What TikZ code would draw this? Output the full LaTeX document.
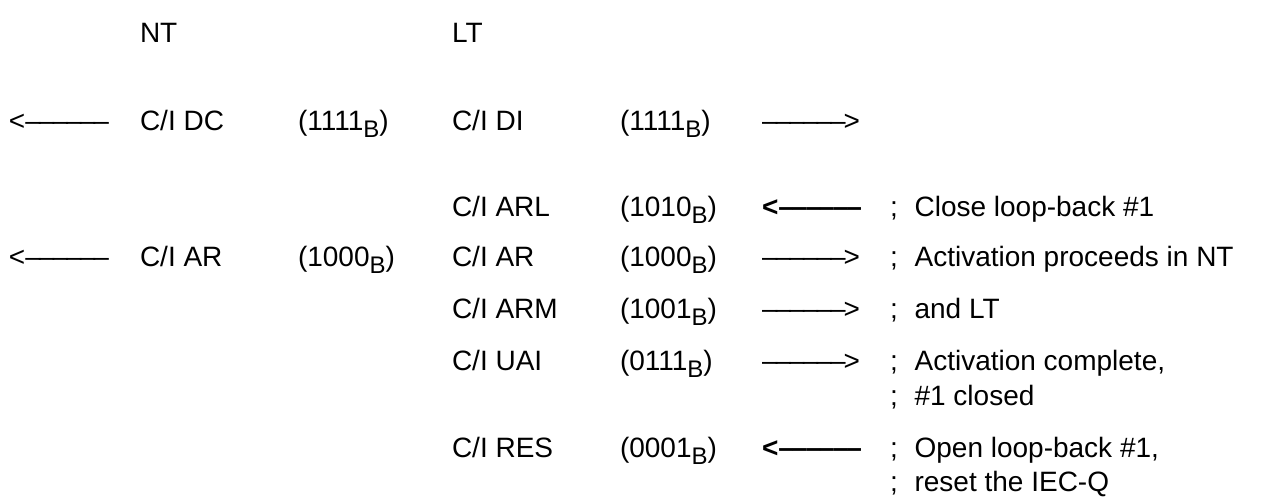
\documentclass[tikz,border=0pt]{standalone}
\usepackage{fontspec}
\setmainfont{Liberation Sans}
\usepackage{tikz}

\tikzset{
  txt/.style={anchor=base west, inner sep=0pt, outer sep=0pt, font=\fontsize{14}{16}\selectfont},
  boldtxt/.style={txt, font=\fontsize{14}{16}\selectfont\bfseries}
}
\newcommand{\cib}[1]{(#1\raisebox{-0.28em}{\fontsize{12}{12}\selectfont B})}
\newcommand{\dsh}{\textendash\kern-0.07em}
\newcommand{\lar}{<\dsh\dsh\dsh\dsh\dsh\textendash}
\newcommand{\rar}{\dsh\dsh\dsh\dsh\dsh\dsh>}
\newcommand{\cmt}{;\hspace{0.6em}}

\begin{document}
\begin{tikzpicture}[x=0.5pt,y=-0.5pt]
\useasboundingbox (0,0) rectangle (1267,498);
\node[txt] (nt) at (140,42) {NT};
\node[txt] (lt) at (452,42) {LT};

\node[txt] (aDC) at (9,130) {\lar};
\node[txt] (ciDC) at (140,130) {C/I DC};
\node[txt] (vDC) at (298,130) {\cib{1111}};
\node[txt] (ciDI) at (452,130) {C/I DI};
\node[txt] (vDI) at (620,130) {\cib{1111}};
\node[txt] (aDI) at (762,130) {\rar};

\node[txt] (ciARL) at (452,216) {C/I ARL};
\node[txt] (vARL) at (620,216) {\cib{1010}};
\node[boldtxt] (aARL) at (762,216) {\lar};
\node[txt] (cARL) at (890,216) {\cmt Close loop-back \#1};

\node[txt] (aARnt) at (9,266) {\lar};
\node[txt] (ciARnt) at (140,266) {C/I AR};
\node[txt] (vARnt) at (298,266) {\cib{1000}};
\node[txt] (ciAR) at (452,266) {C/I AR};
\node[txt] (vAR) at (620,266) {\cib{1000}};
\node[txt] (aAR) at (762,266) {\rar};
\node[txt] (cAR) at (890,266) {\cmt Activation proceeds in NT};

\node[txt] (ciARM) at (452,318) {C/I ARM};
\node[txt] (vARM) at (620,318) {\cib{1001}};
\node[txt] (aARM) at (762,318) {\rar};
\node[txt] (cARM) at (890,318) {\cmt and LT};

\node[txt] (ciUAI) at (452,370) {C/I UAI};
\node[txt] (vUAI) at (620,370) {\cib{0111}};
\node[txt] (aUAI) at (762,370) {\rar};
\node[txt] (cUAI) at (890,370) {\cmt Activation complete,};
\node[txt] (cUAIb) at (890,405) {\cmt \#1 closed};

\node[txt] (ciRES) at (452,457) {C/I RES};
\node[txt] (vRES) at (620,457) {\cib{0001}};
\node[boldtxt] (aRES) at (762,457) {\lar};
\node[txt] (cRES) at (890,457) {\cmt Open loop-back \#1,};
\node[txt] (cRESb) at (890,491) {\cmt reset the IEC-Q};
\end{tikzpicture}
\end{document}
